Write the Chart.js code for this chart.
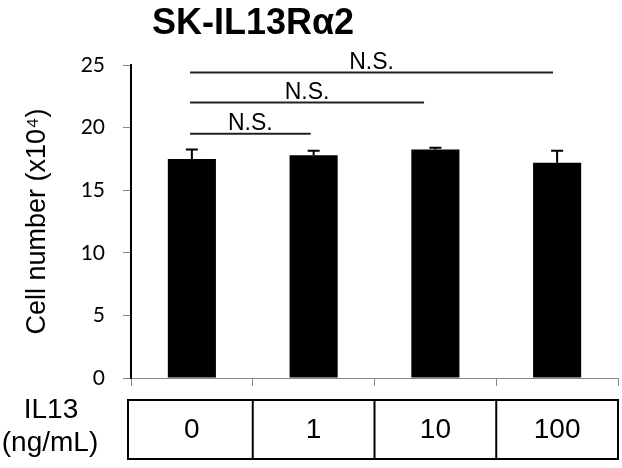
<!DOCTYPE html>
<html>
<head>
<meta charset="utf-8">
<script src="https://cdn.jsdelivr.net/npm/chart.js@4"></script>
<style>
html, body { margin: 0; padding: 0; background: #fff; }
#wrap { width: 622px; height: 468px; }
</style>
</head>
<body>
<div id="wrap"><canvas id="cells"></canvas></div>
<script>
// IL13 dose groups (ng/mL) and cell counts (x10^4)
const doses = ['0', '1', '10', '100'];
const cellNumber = [17.5, 17.8, 18.25, 17.2];
const cellError = [0.75, 0.35, 0.15, 0.95];
const yTicks = [0, 5, 10, 15, 20, 25];

// significance lines: start / end category, height, text
const sigFrom = [-0.015, -0.015, -0.015];
const sigTo = [0.976, 1.907, 2.966];
const sigLevel = [19.5, 22.0, 24.4];
const sigText = ['N.S.', 'N.S.', 'N.S.'];

const ARIAL = '"Liberation Sans", Arial, sans-serif';

const extras = {
  id: 'extras',
  afterDatasetsDraw(chart) {
    const ctx = chart.ctx;
    const xs = chart.scales.x, ys = chart.scales.y;
    ctx.save();
    ctx.strokeStyle = '#000';
    ctx.lineWidth = 2;
    // error bars (upper only)
    cellNumber.forEach((v, i) => {
      const x = xs.getPixelForValue(i);
      const y0 = ys.getPixelForValue(v);
      const y1 = ys.getPixelForValue(v + cellError[i]);
      ctx.beginPath();
      ctx.moveTo(x, y0); ctx.lineTo(x, y1);
      ctx.moveTo(x - 6, y1); ctx.lineTo(x + 6, y1);
      ctx.stroke();
    });
    // N.S. lines
    ctx.strokeStyle = '#222';
    ctx.fillStyle = '#000';
    ctx.font = '23px ' + ARIAL;
    ctx.textAlign = 'center';
    ctx.textBaseline = 'alphabetic';
    sigLevel.forEach((lv, i) => {
      const xa = xs.getPixelForValue(sigFrom[i]);
      const xb = xs.getPixelForValue(sigTo[i]);
      const y = ys.getPixelForValue(lv);
      ctx.beginPath();
      ctx.moveTo(xa, y); ctx.lineTo(xb, y);
      ctx.stroke();
      ctx.fillText(sigText[i], (xa + xb) / 2, y - 4);
    });
    ctx.restore();
  },
  afterDraw(chart) {
    const ctx = chart.ctx;
    const xs = chart.scales.x;
    const area = chart.chartArea;
    ctx.save();
    // title
    ctx.fillStyle = '#000';
    ctx.font = 'bold 36px ' + ARIAL;
    ctx.textAlign = 'center';
    ctx.textBaseline = 'alphabetic';
    ctx.fillText('SK-IL13R\u03b12', 253, 34);

    // dose table under the axis
    const top = area.bottom + 22, h = 59;
    const left = area.left - 3, right = area.right;
    ctx.strokeStyle = '#000';
    ctx.lineWidth = 2;
    ctx.strokeRect(left, top, right - left, h);
    const step = (area.right - area.left) / doses.length;
    ctx.beginPath();
    for (let i = 1; i < doses.length; i++) {
      const x = area.left + step * i;
      ctx.moveTo(x, top); ctx.lineTo(x, top + h);
    }
    ctx.stroke();
    ctx.font = '28px ' + ARIAL;
    ctx.textBaseline = 'middle';
    doses.forEach((d, i) => {
      ctx.fillText(d, xs.getPixelForValue(i), top + h / 2 + 1);
    });
    ctx.fillText('IL13', 51, top + 10);
    ctx.fillText('(ng/mL)', 50, top + 43);
    ctx.restore();
  }
};

const ctx = document.getElementById('cells').getContext('2d');
const myChart = new Chart(ctx, {
  type: 'bar',
  data: {
    labels: doses,
    datasets: [{
      label: 'Cell number',
      data: cellNumber,
      backgroundColor: '#000',
      borderWidth: 0,
      barPercentage: 0.395,
      categoryPercentage: 1
    }]
  },
  options: {
    responsive: true,
    maintainAspectRatio: false,
    animation: false,
    layout: { padding: { top: 65, right: 4, left: 0, bottom: 0 } },
    plugins: { legend: { display: false }, tooltip: { enabled: false } },
    scales: {
      x: {
        offset: true,
        grid: { offset: true, drawOnChartArea: false, drawTicks: true, tickLength: 8, color: '#888' },
        border: { color: '#888', width: 1 },
        ticks: { display: false },
        afterFit: s => { s.height = 90; }
      },
      y: {
        min: 0,
        max: 25,
        afterBuildTicks: s => { s.ticks = yTicks.map(v => ({ value: v })); },
        ticks: { color: '#000', padding: 18, font: { family: 'Lato', size: 21 } },
        grid: { drawOnChartArea: false, tickLength: 8, color: '#888' },
        border: { color: '#000', width: 2 },
        title: {
          display: true,
          text: 'Cell number (x10\u2074)',
          color: '#000',
          font: { family: '"Liberation Sans", Arial, sans-serif', size: 27 },
          padding: { top: 21 }
        },
        afterFit: s => { s.width = 131; }
      }
    }
  },
  plugins: [extras]
});
</script>
</body>
</html>
